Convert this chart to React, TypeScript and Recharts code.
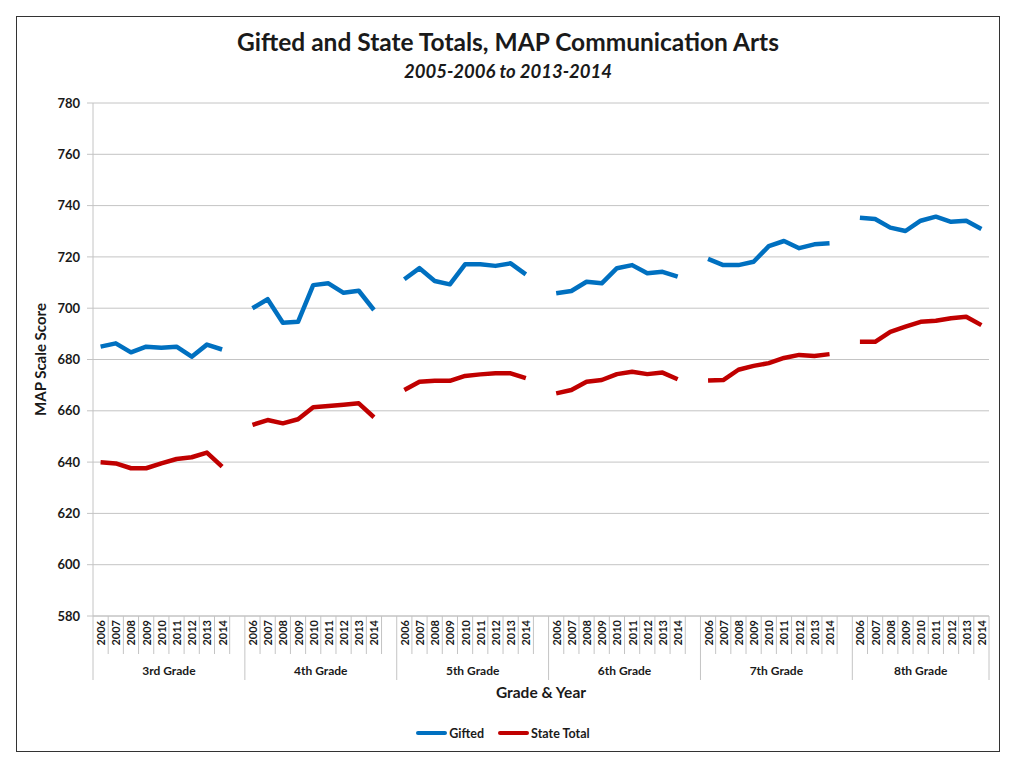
import { LineChart, Line, XAxis, YAxis, CartesianGrid, Legend } from 'recharts'

const GRADES = ['3rd Grade', '4th Grade', '5th Grade', '6th Grade', '7th Grade', '8th Grade']
const YEARS = ['2006', '2007', '2008', '2009', '2010', '2011', '2012', '2013', '2014']
const Y_TICKS = [580, 600, 620, 640, 660, 680, 700, 720, 740, 760, 780]

const GIFTED = [
  [685.0, 686.3, 682.8, 685.0, 684.6, 685.0, 681.1, 685.8, 683.9],
  [700.0, 703.5, 694.3, 694.7, 709.0, 709.7, 706.0, 706.8, 699.3],
  [711.3, 715.6, 710.6, 709.3, 717.1, 717.1, 716.5, 717.5, 713.2],
  [705.8, 706.7, 710.3, 709.7, 715.6, 716.8, 713.6, 714.2, 712.3],
  [719.2, 716.8, 716.8, 718.1, 724.2, 726.2, 723.4, 724.9, 725.3],
  [735.3, 734.8, 731.4, 730.1, 734.1, 735.7, 733.7, 734.1, 730.9],
]

const STATE_TOTAL = [
  [639.9, 639.5, 637.6, 637.6, 639.5, 641.2, 641.9, 643.7, 638.2],
  [654.5, 656.4, 655.1, 656.7, 661.4, 661.9, 662.4, 662.9, 657.5],
  [668.1, 671.3, 671.7, 671.7, 673.6, 674.2, 674.6, 674.6, 672.7],
  [666.8, 668.1, 671.3, 672.0, 674.3, 675.2, 674.3, 674.9, 672.3],
  [671.8, 672.0, 676.0, 677.5, 678.6, 680.6, 681.8, 681.4, 682.1],
  [686.9, 686.9, 690.8, 692.8, 694.7, 695.1, 696.1, 696.7, 693.4],
]

const BLUE = '#0070C0'
const RED = '#C00000'
const GRID = '#c4c4c4'
const FONT = 'Lato, "Open Sans", sans-serif'
const TEXT = '#1a1a1a'

// one row per grade/year, with an empty slot between grades (Excel style)
const rows: any[] = []
GRADES.forEach((g, gi) => {
  YEARS.forEach((yr, yi) => {
    rows.push({ key: `${gi}|${yr}`, gi, year: yr, gifted: GIFTED[gi][yi], state: STATE_TOTAL[gi][yi] })
  })
  if (gi < GRADES.length - 1) rows.push({ key: `${gi}|gap`, gi, year: '', gifted: null, state: null })
})

function CategoryTick(props: any) {
  const { x, y, payload, index } = props
  const row = rows[index ?? 0] ?? rows.find(r => r.key === payload.value)
  const half = payload.offset || 7.6
  const isLast = index === rows.length - 1
  const groupEnd = row.year === '' || isLast
  const lastGroup = row.gi === GRADES.length - 1
  return (
    <g>
      {index === 0 && <line x1={x - half} x2={x - half} y1={y} y2={y + 64} stroke={GRID} />}
      <line x1={x + half} x2={x + half} y1={y} y2={y + (groupEnd ? 64 : 38)} stroke={GRID} />
      {row.year && (
        <text x={x} y={y + 4} transform={`rotate(-90 ${x} ${y + 4})`} textAnchor="end" dominantBaseline="central"
          style={{ fontFamily: FONT, fontSize: 11, fontWeight: 'bold', fill: TEXT }}>
          {row.year}
        </text>
      )}
      {row.year === YEARS[4] && (
        <text x={lastGroup ? x : x + half} y={y + 54} textAnchor="middle" dominantBaseline="central"
          style={{ fontFamily: FONT, fontSize: 12, fontWeight: 'bold', fill: TEXT }}>
          {GRADES[row.gi]}
        </text>
      )}
    </g>
  )
}

const renderLegend = () => (
  <div style={{ display: 'flex', justifyContent: 'center', alignItems: 'center', height: 20, fontFamily: FONT, fontSize: 12.5, fontWeight: 'bold', color: TEXT }}>
    {[{ name: 'Gifted', color: BLUE }, { name: 'State Total', color: RED }].map(s => (
      <span key={s.name} style={{ display: 'inline-flex', alignItems: 'center', margin: '0 7px' }}>
        <span style={{ display: 'inline-block', width: 31, height: 4, background: s.color, borderRadius: 2, marginRight: 2 }} />
        {s.name}
      </span>
    ))}
  </div>
)

export default function App() {
  return (
    <div style={{ position: 'relative', width: 982, height: 734, border: '1px solid #333', margin: '8px 0 0 8px', background: '#fff' }}>
      <div style={{ position: 'absolute', top: 11, left: 0, right: 0, textAlign: 'center', fontFamily: FONT, fontSize: 24.5, lineHeight: '28px', fontWeight: 'bold', color: TEXT }}>
        Gifted and State Totals, MAP Communication Arts
      </div>
      <div style={{ position: 'absolute', top: 43, left: 0, right: 0, textAlign: 'center', fontFamily: FONT, fontSize: 18.5, lineHeight: '22px', fontWeight: 'bold', fontStyle: 'italic', color: TEXT }}>
        2005-2006 to 2013-2014
      </div>
      <LineChart width={982} height={734} data={rows} margin={{ top: 86, right: 10, left: 0, bottom: 8 }}>
        <CartesianGrid vertical={false} stroke={GRID} />
        <XAxis dataKey="key" scale="band" interval={0} height={107} tickSize={0} tickMargin={0}
          axisLine={{ stroke: GRID }} tickLine={false} tick={<CategoryTick />}
          label={{
            content: ({ viewBox }: any) => (
              <text x={viewBox.x + viewBox.width / 2} y={viewBox.y + 76} textAnchor="middle" dominantBaseline="central"
                style={{ fontFamily: FONT, fontSize: 15.5, fontWeight: 'bold', fill: TEXT }}>
                Grade &amp; Year
              </text>
            ),
          }} />
        <YAxis domain={[580, 780]} ticks={Y_TICKS} width={76} tickSize={6} tickMargin={7}
          axisLine={{ stroke: GRID }} tickLine={{ stroke: GRID }}
          tick={{ fontFamily: FONT, fontSize: 13, fontWeight: 'bold', fill: TEXT }}
          label={{
            content: ({ viewBox }: any) => {
              const cx = viewBox.x + 23
              const cy = viewBox.y + viewBox.height / 2
              return (
                <text x={cx} y={cy} transform={`rotate(-90 ${cx} ${cy})`} textAnchor="middle" dominantBaseline="central"
                  style={{ fontFamily: FONT, fontSize: 15, fontWeight: 'bold', fill: TEXT }}>
                  MAP Scale Score
                </text>
              )
            },
          }} />
        <Legend verticalAlign="bottom" content={renderLegend} />
        <Line dataKey="gifted" name="Gifted" stroke={BLUE} strokeWidth={4.5} strokeLinejoin="round" dot={false} activeDot={false} isAnimationActive={false} />
        <Line dataKey="state" name="State Total" stroke={RED} strokeWidth={4.5} strokeLinejoin="round" dot={false} activeDot={false} isAnimationActive={false} />
      </LineChart>
    </div>
  )
}
